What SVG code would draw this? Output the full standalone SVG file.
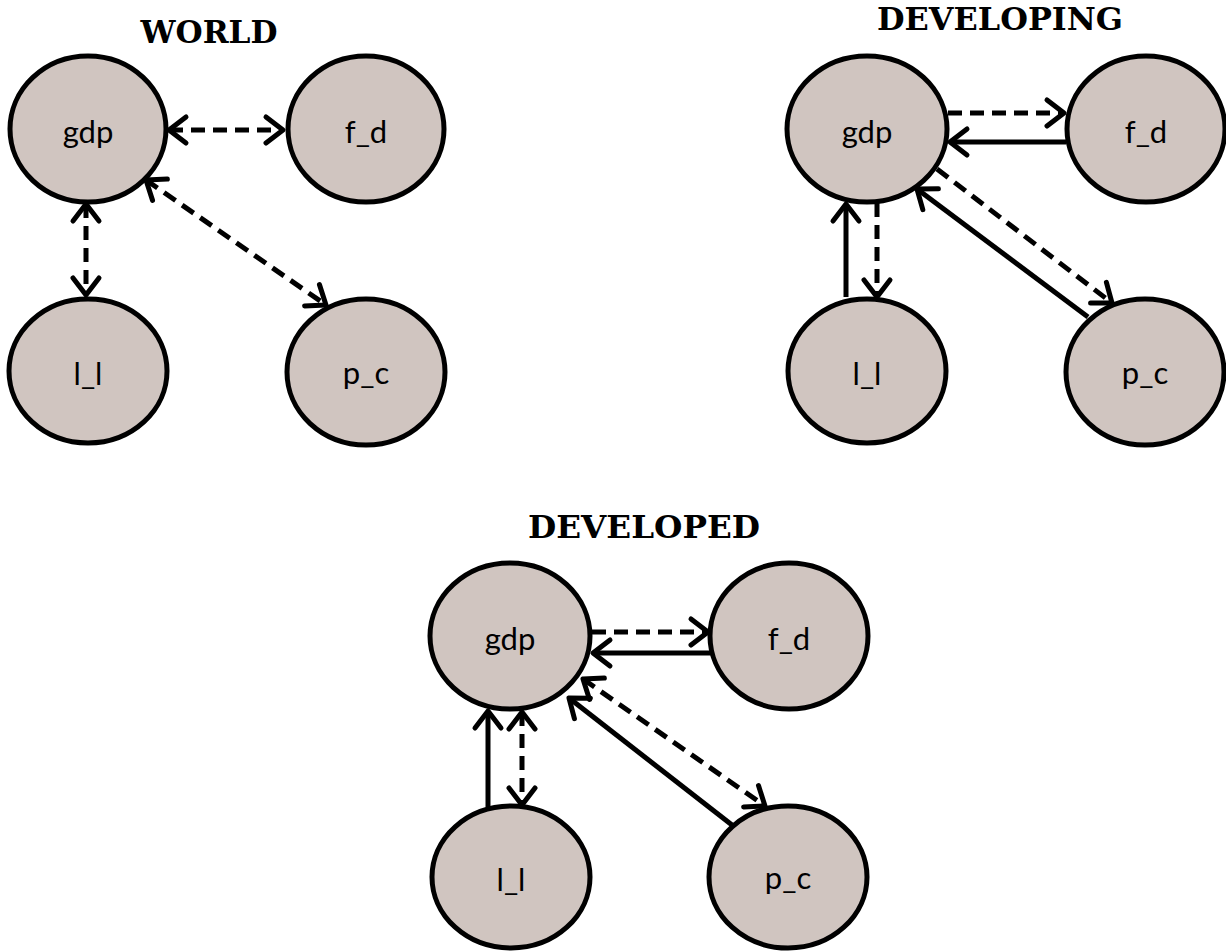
<svg xmlns="http://www.w3.org/2000/svg" width="1226" height="951" viewBox="0 0 1226 951">
<style>
.node ellipse{fill:#d0c5c0;stroke:#000;stroke-width:5}
.node text{font-family:Lato,"Open Sans",sans-serif;font-size:31px;fill:#000;text-anchor:middle}
.title{font-family:"DejaVu Serif","Liberation Serif",serif;font-weight:bold;font-size:32px;fill:#000;text-anchor:middle}
.conn line{stroke:#000;stroke-width:5;fill:none}
.conn .d{stroke-dasharray:14 8}
.s{marker-end:url(#ah)}
.b{marker-start:url(#ah);marker-end:url(#ah)}
</style>
<defs>
<marker id="ah" markerUnits="userSpaceOnUse" markerWidth="40" markerHeight="40" viewBox="-25 -20 40 40" refX="0" refY="0" orient="auto-start-reverse" overflow="visible">
<path d="M-17,-13 L0,0 L-17,13" fill="none" stroke="#000" stroke-width="5" stroke-dasharray="none" stroke-linecap="round" stroke-linejoin="round"/>
</marker>
</defs>
<rect width="1226" height="951" fill="#fff"/>
<text class="title" x="209" y="43" textLength="137" lengthAdjust="spacingAndGlyphs">WORLD</text>
<text class="title" x="1000" y="30" textLength="246" lengthAdjust="spacingAndGlyphs">DEVELOPING</text>
<text class="title" x="644" y="538" textLength="232" lengthAdjust="spacingAndGlyphs">DEVELOPED</text>
<g id="w_gdp" class="node"><ellipse cx="88" cy="129" rx="78" ry="73"/><text x="88" y="143">gdp</text></g>
<g id="w_fd" class="node"><ellipse cx="366" cy="129" rx="78" ry="73"/><text x="366" y="143">f_d</text></g>
<g id="w_ll" class="node"><ellipse cx="88" cy="371" rx="79" ry="72"/><text x="88" y="385">l_l</text></g>
<g id="w_pc" class="node"><ellipse cx="366" cy="372" rx="79" ry="73"/><text x="366" y="384">p_c</text></g>
<g id="dg_gdp" class="node"><ellipse cx="867" cy="129" rx="80" ry="73"/><text x="867" y="143">gdp</text></g>
<g id="dg_fd" class="node"><ellipse cx="1146" cy="129" rx="79" ry="73"/><text x="1146" y="143">f_d</text></g>
<g id="dg_ll" class="node"><ellipse cx="867" cy="371" rx="79" ry="72"/><text x="867" y="385">l_l</text></g>
<g id="dg_pc" class="node"><ellipse cx="1145" cy="372" rx="79" ry="73"/><text x="1145" y="384">p_c</text></g>
<g id="dd_gdp" class="node"><ellipse cx="510" cy="636" rx="80" ry="73"/><text x="510" y="650">gdp</text></g>
<g id="dd_fd" class="node"><ellipse cx="789" cy="636" rx="79" ry="73"/><text x="789" y="650">f_d</text></g>
<g id="dd_ll" class="node"><ellipse cx="511" cy="877" rx="79" ry="71"/><text x="511" y="891">l_l</text></g>
<g id="dd_pc" class="node"><ellipse cx="788" cy="877" rx="79" ry="71"/><text x="788" y="889">p_c</text></g>
<g id="connectors" class="conn">
<line class="d b" x1="169" y1="130" x2="283" y2="130"/>
<line class="d b" x1="86" y1="204" x2="86" y2="295"/>
<line class="d b" x1="146" y1="180" x2="326" y2="305"/>
<line class="d s" x1="948" y1="113" x2="1064" y2="113"/>
<line class="s" x1="1066" y1="142" x2="950" y2="142"/>
<line class="s" x1="846" y1="297" x2="846" y2="204"/>
<line class="d s" x1="877" y1="203" x2="877" y2="297"/>
<line class="d s" x1="937" y1="169" x2="1112" y2="303"/>
<line class="s" x1="1088" y1="317" x2="917" y2="189"/>
<line class="d s" x1="592" y1="632" x2="708" y2="632"/>
<line class="s" x1="711" y1="653" x2="593" y2="653"/>
<line class="s" x1="488" y1="807" x2="488" y2="711"/>
<line class="d b" x1="522" y1="712" x2="522" y2="805"/>
<line class="d b" x1="583" y1="679" x2="765" y2="806"/>
<line class="s" x1="732" y1="825" x2="569" y2="698"/>
</g>
</svg>
